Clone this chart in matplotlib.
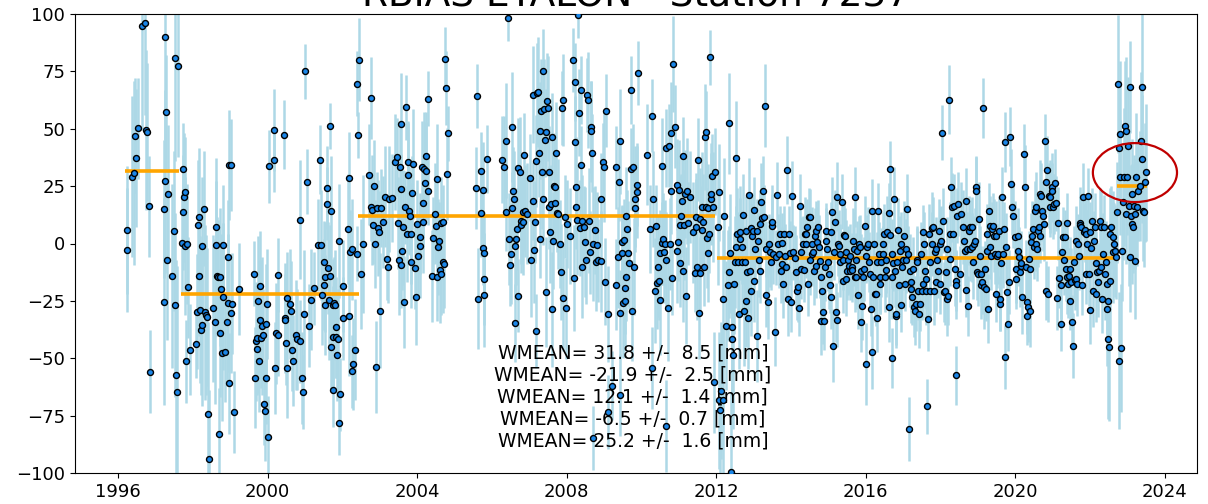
#!/usr/bin/env python3
"""
Range bias residuals for ETALON at station 7237, with weighted mean per interval.
"""

import matplotlib

matplotlib.use("Agg")
import matplotlib.pyplot as plt
from matplotlib.patches import Ellipse

TITLE = "RBIAS ETALON - Station 7237"

# --- 1996 - 2002 -------------------------------------------------------------
t_early = [
  1996.23, 1996.23, 1996.38, 1996.44, 1996.48, 1996.45, 1996.54, 1996.63, 1996.72, 1996.74,
  1996.77, 1996.84, 1996.86, 1997.22, 1997.24, 1997.26, 1997.27, 1997.29, 1997.32, 1997.34,
  1997.44, 1997.51, 1997.52, 1997.53, 1997.56, 1997.58, 1997.60, 1997.70, 1997.73, 1997.75,
  1997.76, 1997.79, 1997.79, 1997.84, 1997.83, 1997.87, 1997.92, 1998.08, 1998.10, 1998.13,
  1998.16, 1998.17, 1998.19, 1998.22, 1998.24, 1998.25, 1998.30, 1998.32, 1998.35, 1998.39,
  1998.42, 1998.43, 1998.55, 1998.59, 1998.61, 1998.62, 1998.65, 1998.68, 1998.70, 1998.72,
  1998.74, 1998.75, 1998.77, 1998.80, 1998.82, 1998.86, 1998.91, 1998.93, 1998.95, 1998.97,
  1998.98, 1999.01, 1999.02, 1999.06, 1999.09, 1999.24, 1999.64, 1999.66, 1999.69, 1999.72,
  1999.73, 1999.77, 1999.75, 1999.80, 1999.81, 1999.83, 1999.86, 1999.88, 1999.90, 1999.93,
  1999.95, 1999.97, 1999.98, 2000.02, 2000.05, 2000.16, 2000.17, 2000.20, 2000.22, 2000.27,
  2000.29, 2000.44, 2000.47, 2000.48, 2000.50, 2000.52, 2000.53, 2000.60, 2000.64, 2000.66,
  2000.69, 2000.75, 2000.80, 2000.88, 2000.87, 2000.93, 2000.96, 2000.98, 2001.01, 2001.06,
  2001.12, 2001.15, 2001.24, 2001.36, 2001.40, 2001.42, 2001.46, 2001.51, 2001.52, 2001.53,
  2001.55, 2001.58, 2001.60, 2001.62, 2001.64, 2001.66, 2001.67, 2001.70, 2001.71, 2001.74,
  2001.75, 2001.76, 2001.78, 2001.80, 2001.82, 2001.84, 2001.86, 2001.89, 2001.90, 2001.92,
  2001.95, 2002.01, 2002.03, 2002.14, 2002.18, 2002.19, 2002.21, 2002.25, 2002.27, 2002.29,
  2002.34, 2002.38, 2002.39, 2002.41, 2002.44, 2002.51, 2002.56,
]
y_early = [
  5.9, -2.7, 29.1, 30.6, 37.3, 47.0, 50.3, 94.6, 96.1, 49.5,
  48.7, 16.2, -55.9, 15.1, -25.3, 27.1, 90.1, 57.3, -7.0, 21.6,
  -14.1, 5.5, 80.8, -26.8, -57.4, -64.9, 77.5, 0.1, 13.6, 32.6,
  20.1, 22.3, -1.2, -0.2, -51.3, -19.1, -46.2, -43.6, -29.7, 8.2,
  11.4, -14.1, -28.8, -37.8, -35.6, -1.1, 15.1, -30.0, -31.1, -32.1,
  -74.2, -93.7, -28.2, -34.0, 7.4, -0.6, -14.3, -14.7, -82.8, -14.7,
  -39.0, -19.9, -47.5, -0.6, -23.1, -47.1, -34.3, -26.0, -6.0, -61.0,
  34.1, 34.1, -30.4, -26.3, -73.4, -19.8, -13.1, -58.6, -42.7, -41.1,
  -45.9, -51.3, -24.9, -33.3, -18.5, -41.1, -35.8, -39.8, -69.9, -72.8,
  -35.0, -58.6, -26.3, -84.4, 33.6, 36.3, 49.5, -54.2, -39.1, -39.8,
  -13.8, 47.4, -32.6, -33.3, -43.5, -54.2, -23.7, -26.3, -29.5, -46.2,
  -51.0, -39.7, -41.7, -42.7, 10.4, -58.6, -64.7, -30.7, 75.0, 27.0,
  -35.8, -24.6, -19.5, -0.5, 36.5, -0.6, -22.3, -8.2, -17.9, -14.7,
  -26.8, 17.4, 24.4, -10.6, -24.6, -14.0, 51.2, -45.2, 14.3, -26.8,
  -63.8, -40.6, -26.0, -26.8, -36.5, -40.8, -48.5, -41.7, 1.1, -78.0,
  -65.7, -18.6, -32.6, 6.2, 28.6, -31.6, -3.5, -2.5, -55.7, -52.5,
  -46.2, -4.5, 69.7, 47.3, 80.1, -13.4, -0.2,
]
e_early = [
  28, 27, 35, 40, 30, 25, 22, 45, 40, 35,
  30, 22, 18, 30, 45, 40, 45, 25, 35, 30,
  40, 35, 45, 40, 50, 55, 40, 22, 25, 20,
  28, 24, 30, 26, 18, 22, 20, 15, 25, 28,
  30, 26, 32, 28, 35, 30, 25, 38, 35, 30,
  40, 30, 32, 36, 30, 28, 26, 25, 20, 30,
  28, 24, 30, 26, 32, 22, 28, 30, 25, 22,
  24, 20, 26, 22, 18, 20, 14, 22, 26, 24,
  20, 22, 28, 26, 24, 22, 30, 20, 18, 22,
  26, 20, 24, 18, 16, 14, 18, 20, 22, 18,
  16, 15, 24, 20, 18, 22, 20, 24, 22, 18,
  20, 24, 22, 18, 26, 20, 16, 28, 12, 14,
  18, 22, 16, 20, 15, 24, 22, 18, 20, 24,
  22, 16, 18, 20, 26, 22, 10, 18, 24, 20,
  16, 22, 20, 24, 22, 18, 20, 22, 25, 14,
  16, 20, 18, 24, 20, 26, 18, 22, 16, 20,
  22, 12, 14, 10, 18, 24, 30,
]

# --- 2002 - 2012 -------------------------------------------------------------
t_mid = [
  2002.76, 2002.72, 2002.76, 2002.85, 2002.83, 2002.80, 2002.87, 2002.92, 2002.96, 2002.99,
  2003.02, 2003.04, 2003.10, 2003.14, 2003.20, 2003.23, 2003.26, 2003.32, 2003.41, 2003.45,
  2003.50, 2003.52, 2003.54, 2003.57, 2003.58, 2003.58, 2003.60, 2003.63, 2003.65, 2003.67,
  2003.70, 2003.72, 2003.75, 2003.77, 2003.79, 2003.81, 2003.83, 2003.85, 2003.87, 2003.90,
  2003.94, 2003.96, 2003.99, 2004.03, 2004.08, 2004.09, 2004.12, 2004.15, 2004.16, 2004.18,
  2004.21, 2004.24, 2004.25, 2004.28, 2004.30, 2004.41, 2004.43, 2004.48, 2004.50, 2004.52,
  2004.54, 2004.57, 2004.59, 2004.61, 2004.63, 2004.65, 2004.68, 2004.70, 2004.73, 2004.74,
  2004.77, 2004.79, 2004.82, 2005.57, 2005.59, 2005.63, 2005.70, 2005.72, 2005.75, 2005.77,
  2005.80, 2005.79, 2005.80, 2005.86, 2006.26, 2006.32, 2006.37, 2006.39, 2006.42, 2006.46,
  2006.48, 2006.50, 2006.53, 2006.55, 2006.57, 2006.59, 2006.61, 2006.62, 2006.64, 2006.66,
  2006.70, 2006.71, 2006.75, 2006.78, 2006.79, 2006.82, 2006.84, 2006.86, 2006.89, 2006.93,
  2007.02, 2007.05, 2007.09, 2007.11, 2007.12, 2007.16, 2007.18, 2007.19, 2007.21, 2007.24,
  2007.27, 2007.28, 2007.30, 2007.32, 2007.34, 2007.36, 2007.37, 2007.39, 2007.42, 2007.44,
  2007.46, 2007.48, 2007.51, 2007.52, 2007.53, 2007.55, 2007.57, 2007.60, 2007.62, 2007.64,
  2007.66, 2007.68, 2007.68, 2007.71, 2007.73, 2007.77, 2007.82, 2007.85, 2007.87, 2007.89,
  2007.91, 2007.95, 2007.98, 2008.01, 2008.09, 2008.17, 2008.19, 2008.22, 2008.23, 2008.25,
  2008.26, 2008.28, 2008.30, 2008.32, 2008.35, 2008.38, 2008.39, 2008.41, 2008.42, 2008.46,
  2008.50, 2008.53, 2008.55, 2008.58, 2008.60, 2008.62, 2008.64, 2008.66, 2008.67, 2008.71,
  2008.75, 2008.78, 2008.80, 2008.84, 2008.91, 2008.93, 2008.96, 2008.99, 2009.02, 2009.05,
  2009.11, 2009.32, 2009.33, 2009.38, 2009.40, 2009.42, 2009.44, 2009.47, 2009.49, 2009.51,
  2009.53, 2009.56, 2009.57, 2009.58, 2009.60, 2009.62, 2009.65, 2009.67, 2009.71, 2009.73,
  2009.76, 2009.78, 2009.80, 2009.82, 2009.84, 2009.87, 2009.89, 2009.91, 2010.14, 2010.22,
  2010.27, 2010.31, 2010.36, 2010.38, 2010.42, 2010.45, 2010.47, 2010.49, 2010.51, 2010.54,
  2010.56, 2010.58, 2010.60, 2010.63, 2010.65, 2010.67, 2010.72, 2010.74, 2010.76, 2010.79,
  2010.80, 2010.83, 2010.85, 2010.89, 2010.94, 2010.96, 2010.98, 2011.01, 2011.03, 2011.04,
  2011.06, 2011.08, 2011.10, 2011.12, 2011.14, 2011.16, 2011.19, 2011.22, 2011.25, 2011.29,
  2011.38, 2011.43, 2011.45, 2011.47, 2011.49, 2011.52, 2011.54, 2011.56, 2011.58, 2011.61,
  2011.63, 2011.65, 2011.68, 2011.70, 2011.72, 2011.74, 2011.76, 2011.78, 2011.78, 2011.81,
  2011.83, 2011.85, 2011.87, 2011.90, 2011.92, 2011.96, 2012.05, 2012.08, 2002.90, 2010.27,
  2009.20, 2009.44, 2009.11, 2010.65, 2008.71, 2011.94, 2012.08, 2012.11,
]
y_mid = [
  63.4, 30.0, 16.1, 25.2, 8.2, 14.6, -0.2, 15.3, 6.8, 4.9,
  -29.2, 15.3, 9.3, 20.4, -6.7, -10.1, 19.4, 19.8, 35.4, 37.6,
  8.8, -7.2, 33.2, 23.8, 52.1, -9.2, -3.1, 7.1, -25.6, 15.8,
  59.3, 4.2, 35.4, 29.7, 14.3, 12.2, 4.2, -8.2, 22.0, 34.7,
  -10.6, -23.4, 8.5, -5.3, -0.9, 2.7, 33.2, 9.3, 17.5, 32.5,
  26.2, 38.3, 31.8, 23.0, 63.0, -14.0, 2.4, 12.9, 7.8, 28.0,
  -14.7, -1.6, 1.3, -11.5, -13.3, 8.8, 9.3, -8.2, -8.9, 80.4,
  67.8, 30.3, 48.0, 24.2, 64.4, -24.1, 13.3, 31.5, 23.3, -2.1,
  -4.1, -15.4, -22.3, 36.8, 36.5, 33.5, 13.8, 44.8, 98.3, 2.0,
  -9.2, -4.5, 15.3, 50.6, 23.0, 19.4, -34.7, -0.9, 2.0, 6.3,
  32.9, -22.7, 31.3, 10.0, 8.1, 13.6, 9.3, 38.7, 14.3, 12.9,
  28.6, -7.2, 18.7, 64.9, -2.8, 9.3, 36.0, -38.2, 65.4, 66.0,
  39.3, 49.2, 2.0, 57.6, 31.2, 75.3, 19.4, 58.5, 45.1, -21.0,
  48.5, 62.0, 58.9, 15.8, 31.0, 4.9, 17.2, -28.6, 46.6, 1.3,
  25.1, 17.5, 24.5, 39.5, 13.2, 12.9, -0.2, -12.5, 59.1, -23.7,
  62.5, 11.7, -28.2, 8.5, 3.4, 80.0, -15.0, 70.2, 44.1, 24.5,
  15.8, 10.4, 99.6, 57.0, 6.8, 34.4, 66.9, 10.0, -10.4, 7.1,
  0.5, -7.4, 64.7, 62.5, 10.0, -3.8, 50.6, 48.9, 39.3, -0.2,
  5.9, -8.2, -0.5, -7.4, 19.3, -7.7, 35.4, 33.2, -16.6, 57.9,
  -30.7, 33.2, -17.9, -6.0, 27.0, 44.5, -30.4, -4.3, 0.5, -26.0,
  1.6, -19.4, -24.9, -14.7, 12.2, 6.3, -4.3, -8.6, 32.5, 66.9,
  -29.2, 33.2, -10.1, 15.5, 19.4, 25.7, 22.3, 74.3, 38.7, 6.3,
  55.7, 19.4, -20.5, 7.5, -17.2, -10.1, -16.5, -24.6, -4.3, 33.9,
  0.1, 2.0, -3.8, -0.2, -7.4, 41.5, -28.1, 42.6, -0.2, 48.2,
  23.0, -15.1, 78.2, 50.9, 25.7, -3.1, 0.5, 23.3, -8.6, 8.2,
  12.2, 18.7, -12.1, 38.3, 8.2, 21.6, -22.7, 23.0, 8.8, 20.1,
  4.9, -13.0, 11.7, 7.1, -10.4, 36.5, -30.4, 10.7, -13.0, 15.8,
  5.9, 9.3, -10.4, 46.3, 48.5, 16.1, 2.4, 15.5, -4.3, 4.2,
  81.1, 19.4, 21.6, 29.6, 15.8, 31.3, 7.1, 22.3, -53.9, -54.3,
  -61.9, -66.0, -73.5, -79.6, -84.7, -60.4, -68.4, -72.5,
]
e_mid = [
  18, 22, 15, 20, 17, 24, 19, 16, 21, 18,
  25, 17, 20, 22, 18, 16, 23, 19, 21, 17,
  20, 24, 18, 15, 22, 19, 17, 25, 20, 16,
  14, 21, 18, 23, 19, 17, 22, 20, 16, 24,
  18, 21, 19, 17, 23, 16, 20, 22, 18, 25,
  17, 19, 21, 15, 12, 20, 18, 22, 16, 24,
  19, 21, 17, 23, 18, 20, 16, 22, 19, 14,
  16, 20, 12, 18, 14, 22, 19, 17, 21, 16,
  18, 20, 23, 15, 19, 22, 17, 25, 10, 20,
  18, 22, 16, 24, 19, 21, 17, 23, 20, 18,
  22, 16, 24, 19, 21, 17, 23, 18, 20, 22,
  19, 25, 17, 21, 23, 18, 20, 16, 22, 24,
  19, 21, 17, 23, 25, 18, 20, 22, 16, 24,
  19, 21, 23, 18, 20, 22, 17, 25, 19, 21,
  23, 18, 20, 22, 17, 24, 19, 21, 16, 23,
  20, 18, 22, 19, 21, 14, 23, 17, 20, 22,
  18, 24, 10, 19, 21, 17, 15, 20, 22, 18,
  24, 19, 16, 21, 23, 18, 20, 22, 17, 25,
  19, 21, 23, 18, 20, 22, 17, 24, 19, 16,
  21, 18, 20, 22, 17, 23, 19, 21, 16, 24,
  18, 20, 22, 19, 21, 17, 23, 20, 18, 15,
  22, 19, 21, 17, 23, 18, 20, 14, 22, 19,
  16, 21, 23, 18, 20, 22, 17, 24, 19, 21,
  18, 20, 22, 19, 21, 17, 23, 18, 20, 22,
  19, 16, 21, 18, 20, 23, 17, 22, 19, 21,
  18, 20, 22, 17, 24, 19, 21, 23, 18, 20,
  22, 17, 19, 21, 23, 18, 20, 22, 16, 24,
  19, 21, 17, 23, 18, 20, 22, 19, 21, 17,
  12, 20, 22, 18, 24, 19, 25, 21, 20, 18,
  15, 18, 16, 20, 14, 22, 30, 28,
]

# --- 2012 - 2018 -------------------------------------------------------------
t_late = [
  2012.20, 2012.17, 2012.26, 2012.34, 2012.32, 2012.35, 2012.38, 2012.41, 2012.43, 2012.45,
  2012.39, 2012.14, 2012.19, 2012.47, 2012.50, 2012.52, 2012.54, 2012.56, 2012.59, 2012.61,
  2012.63, 2012.65, 2012.68, 2012.70, 2012.72, 2012.74, 2012.76, 2012.79, 2012.81, 2012.83,
  2012.85, 2012.88, 2012.90, 2012.93, 2012.94, 2012.97, 2012.99, 2013.01, 2013.02, 2013.05,
  2013.08, 2013.09, 2013.12, 2013.15, 2013.17, 2013.18, 2013.21, 2013.23, 2013.26, 2013.27,
  2013.30, 2013.33, 2013.34, 2013.39, 2013.42, 2013.43, 2013.46, 2013.48, 2013.50, 2013.52,
  2013.57, 2013.59, 2013.63, 2013.66, 2013.68, 2013.70, 2013.73, 2013.75, 2013.77, 2013.79,
  2013.81, 2013.83, 2013.86, 2013.90, 2013.92, 2013.95, 2013.97, 2014.00, 2014.04, 2014.06,
  2014.10, 2014.13, 2014.16, 2014.19, 2014.22, 2014.24, 2014.26, 2014.28, 2014.31, 2014.34,
  2014.37, 2014.40, 2014.41, 2014.43, 2014.46, 2014.49, 2014.50, 2014.52, 2014.55, 2014.57,
  2014.59, 2014.61, 2014.64, 2014.66, 2014.68, 2014.70, 2014.73, 2014.75, 2014.77, 2014.79,
  2014.81, 2014.84, 2014.86, 2014.88, 2014.90, 2014.93, 2014.95, 2014.97, 2014.99, 2015.02,
  2015.04, 2015.06, 2015.08, 2015.11, 2015.13, 2015.14, 2015.17, 2015.20, 2015.22, 2015.23,
  2015.26, 2015.29, 2015.30, 2015.32, 2015.36, 2015.38, 2015.39, 2015.41, 2015.44, 2015.47,
  2015.48, 2015.50, 2015.53, 2015.55, 2015.57, 2015.59, 2015.62, 2015.64, 2015.66, 2015.68,
  2015.70, 2015.71, 2015.73, 2015.75, 2015.77, 2015.79, 2015.82, 2015.84, 2015.87, 2015.88,
  2015.91, 2015.93, 2015.95, 2015.97, 2016.00, 2016.02, 2016.04, 2016.06, 2016.09, 2016.11,
  2016.13, 2016.16, 2016.18, 2016.20, 2016.21, 2016.24, 2016.27, 2016.29, 2016.30, 2016.33,
  2016.36, 2016.37, 2016.39, 2016.42, 2016.45, 2016.46, 2016.48, 2016.51, 2016.53, 2016.55,
  2016.58, 2016.61, 2016.62, 2016.64, 2016.66, 2016.69, 2016.70, 2016.71, 2016.73, 2016.76,
  2016.78, 2016.80, 2016.82, 2016.84, 2016.86, 2016.89, 2016.91, 2016.93, 2016.95, 2016.98,
  2017.00, 2017.03, 2017.04, 2017.07, 2017.09, 2017.11, 2017.13, 2017.16, 2017.18, 2017.20,
  2017.22, 2017.25, 2017.27, 2017.28, 2017.31, 2017.34, 2017.36, 2017.38, 2017.40, 2017.43,
  2017.44, 2017.47, 2017.50, 2017.52, 2017.53, 2017.55, 2017.58, 2017.61, 2017.62, 2017.64,
  2017.67, 2017.69, 2017.71, 2017.73, 2017.76, 2017.78, 2017.80, 2017.82, 2017.85, 2017.87,
  2017.89, 2017.91, 2017.93, 2017.96, 2017.98, 2017.99, 2018.02, 2018.05, 2018.07, 2018.09,
  2018.11, 2018.14, 2018.16, 2018.17, 2018.20, 2018.23, 2018.25, 2018.26, 2018.29, 2018.32,
  2018.34, 2018.35, 2018.38, 2018.41, 2018.42, 2018.44, 2018.47, 2018.42,
]
y_late = [
  12.2, -24.1, -35.8, 52.5, -18.3, -12.5, -4.3, -41.6, -36.5, -48.8,
  -99.7, -64.1, -68.4, -17.6, -8.2, 37.3, -1.6, 4.2, -8.2, -30.7,
  2.0, 4.9, -1.6, -8.2, 12.4, -29.2, -8.2, -24.9, 5.6, -12.5,
  -32.6, 21.3, -12.1, 6.8, -20.5, 3.4, 5.6, -16.2, 14.8, -2.4,
  -40.4, 5.6, 1.3, -7.2, 8.5, -11.8, 18.0, 11.1, 23.0, 11.7,
  60.1, -2.4, -22.4, -25.6, -0.2, -3.8, -8.2, 7.7, 9.3, -4.5,
  -38.4, -6.0, 21.3, -0.2, -4.5, 4.2, -12.1, -8.9, 0.1, -17.6,
  4.2, -5.3, -10.4, 32.0, -24.1, 4.2, -4.3, -25.6, 20.9, -3.8,
  -6.3, -12.5, -20.5, -19.1, -28.1, 16.5, -11.1, -3.5, -0.2, -11.5,
  4.2, 4.2, -0.2, 7.4, -17.6, 11.4, -7.4, 11.7, -4.5, -0.2,
  -3.8, -11.8, 3.4, -9.6, 5.6, 0.8, 7.1, -1.6, -7.7, -14.7,
  -33.6, -20.5, -30.0, -33.6, -10.1, 5.6, 1.3, -2.4, -7.9, -13.5,
  -18.3, -23.4, 4.9, 13.8, -44.5, -3.8, 9.3, -30.0, 20.4, -33.3,
  -0.2, -1.3, -4.5, -8.2, 18.3, -16.2, -7.4, 3.7, 3.4, -3.8,
  -15.4, -11.8, -7.4, -9.6, -5.3, -11.8, -10.4, -11.5, 1.3, -2.4,
  20.4, -14.7, -7.4, -14.7, -3.1, -22.4, -0.2, -1.6, -11.8, -34.3,
  -27.1, -14.7, -11.1, 7.5, -52.5, -5.3, -1.6, -0.2, -8.2, -13.3,
  -28.5, 14.3, -47.4, -14.7, -0.2, -22.0, -22.0, -8.2, -32.4, 14.3,
  -4.5, -14.7, -17.6, -8.2, -4.5, -0.2, 4.2, -14.7, -11.5, -7.4,
  4.9, 13.2, -27.8, 32.5, 3.9, -14.7, -50.0, -4.5, -8.6, 19.4,
  -11.8, -31.4, -30.7, -8.2, 5.9, -17.9, -3.1, -26.6, -0.2, -10.4,
  -7.4, 3.4, -17.6, -7.4, -2.4, 15.1, -4.5, -80.8, -11.8, -16.9,
  -19.8, -23.4, -11.1, -27.8, -29.2, -26.3, -7.4, -8.2, -20.5, -30.7,
  -26.3, -4.5, -20.5, -17.6, 4.9, -0.2, -11.8, -15.4, -20.5, -70.9,
  -32.9, 4.2, -8.2, -20.5, -0.2, 6.6, 7.1, -20.5, -3.8, -2.4,
  -16.9, -7.4, -11.8, 5.6, -0.2, -17.6, 1.3, 48.2, 10.0, -21.2,
  -20.5, -12.5, -2.4, -24.1, -22.7, 62.7, -6.7, 4.2, 24.5, 15.8,
  4.2, 16.5, -11.1, -16.2, -17.9, 12.2, 17.2, -57.5,
]
e_late = [
  25, 30, 28, 22, 24, 20, 26, 30, 28, 32,
  35, 30, 32, 22, 20, 25, 18, 20, 22, 24,
  18, 20, 16, 22, 18, 24, 16, 20, 15, 18,
  22, 16, 18, 15, 20, 14, 16, 18, 14, 15,
  20, 14, 12, 16, 15, 14, 17, 13, 15, 14,
  18, 12, 14, 16, 13, 15, 12, 14, 16, 13,
  15, 12, 14, 13, 15, 12, 14, 16, 13, 15,
  12, 14, 13, 15, 16, 12, 14, 13, 15, 12,
  14, 16, 13, 15, 12, 14, 13, 15, 12, 14,
  16, 13, 15, 12, 14, 13, 15, 12, 14, 16,
  13, 15, 12, 14, 13, 15, 12, 14, 16, 13,
  15, 12, 14, 13, 15, 12, 14, 16, 13, 15,
  12, 14, 13, 15, 16, 12, 14, 13, 15, 12,
  14, 16, 13, 15, 12, 14, 13, 15, 12, 14,
  16, 13, 15, 12, 14, 13, 15, 12, 14, 16,
  13, 15, 12, 14, 13, 15, 12, 14, 16, 13,
  15, 12, 14, 13, 18, 12, 14, 16, 13, 15,
  12, 14, 16, 13, 15, 12, 14, 13, 15, 12,
  14, 16, 13, 15, 12, 14, 13, 15, 12, 14,
  16, 13, 15, 12, 14, 18, 13, 15, 12, 14,
  16, 13, 15, 12, 14, 13, 15, 12, 14, 16,
  13, 15, 12, 14, 13, 15, 12, 14, 16, 13,
  15, 12, 14, 13, 15, 12, 14, 16, 13, 15,
  12, 14, 13, 15, 12, 14, 16, 13, 15, 12,
  14, 13, 15, 12, 14, 16, 13, 15, 12, 14,
  13, 15, 12, 14, 16, 13, 15, 12, 14, 13,
  15, 12, 14, 16, 13, 15, 12, 14, 13, 15,
  12, 14, 16, 13, 15, 12, 14, 13,
]

# --- 2018 - 2023 -------------------------------------------------------------
t_recent = [
  2018.56, 2018.51, 2018.60, 2018.62, 2018.65, 2018.67, 2018.69, 2018.71, 2018.74, 2018.76,
  2018.78, 2018.80, 2018.83, 2018.85, 2018.87, 2018.89, 2018.91, 2018.94, 2018.96, 2018.98,
  2019.00, 2019.03, 2019.05, 2019.07, 2019.09, 2019.12, 2019.14, 2019.16, 2019.18, 2019.21,
  2019.23, 2019.24, 2019.27, 2019.30, 2019.32, 2019.33, 2019.36, 2019.39, 2019.40, 2019.42,
  2019.45, 2019.48, 2019.49, 2019.51, 2019.54, 2019.57, 2019.58, 2019.60, 2019.63, 2019.65,
  2019.67, 2019.70, 2019.72, 2019.73, 2019.76, 2019.78, 2019.81, 2019.82, 2019.85, 2019.88,
  2019.90, 2019.94, 2019.98, 2020.01, 2020.03, 2020.06, 2020.07, 2020.10, 2020.12, 2020.14,
  2020.16, 2020.19, 2020.22, 2020.25, 2020.28, 2020.30, 2020.31, 2020.34, 2020.37, 2020.38,
  2020.40, 2020.43, 2020.46, 2020.47, 2020.50, 2020.52, 2020.55, 2020.56, 2020.58, 2020.61,
  2020.64, 2020.65, 2020.67, 2020.70, 2020.72, 2020.74, 2020.76, 2020.79, 2020.81, 2020.83,
  2020.85, 2020.88, 2020.90, 2020.92, 2020.94, 2020.97, 2020.99, 2021.01, 2021.03, 2021.05,
  2021.08, 2021.12, 2021.14, 2021.17, 2021.21, 2021.23, 2021.26, 2021.28, 2021.29, 2021.32,
  2021.35, 2021.37, 2021.38, 2021.41, 2021.44, 2021.45, 2021.47, 2021.50, 2021.53, 2021.54,
  2021.56, 2021.59, 2021.62, 2021.63, 2021.65, 2021.68, 2021.70, 2021.72, 2021.74, 2021.77,
  2021.79, 2021.81, 2021.83, 2021.86, 2021.88, 2021.90, 2021.92, 2021.95, 2021.97, 2021.99,
  2022.01, 2022.03, 2022.06, 2022.08, 2022.10, 2022.12, 2022.15, 2022.17, 2022.19, 2022.21,
  2022.24, 2022.26, 2022.28, 2022.30, 2022.33, 2022.35, 2022.36, 2022.39, 2022.42, 2022.44,
  2022.45, 2022.47, 2022.49, 2022.51, 2022.52, 2022.54, 2022.57, 2022.60, 2022.61, 2022.63,
  2022.66, 2022.70, 2022.73,
  2022.76, 2022.77, 2022.77, 2022.79, 2022.81, 2022.84, 2022.85,
  2022.88, 2022.90, 2022.93, 2022.95, 2022.97, 2022.99, 2023.01, 2023.04, 2023.06, 2023.08,
  2023.09, 2023.11, 2023.13, 2023.15, 2023.17, 2023.19, 2023.21, 2023.24, 2023.26, 2023.29,
  2023.33, 2023.35, 2023.38, 2023.40, 2023.42, 2023.43, 2023.46, 2023.49,
]
y_recent = [
  12.9, -13.3, 7.1, 1.3, -3.4, -20.2, 18.7, -2.4, -27.1, 5.6,
  7.1, -2.4, 7.1, -1.6, -8.2, -0.2, 1.3, 24.5, 23.0, -12.5,
  -13.3, 10.7, -5.3, -17.9, -13.3, -16.9, 59.1, -19.1, -11.1, -19.8,
  -3.4, 4.2, -28.5, 14.3, -1.6, 7.8, -5.3, 6.3, 7.8, 3.4,
  -4.5, 3.4, -22.0, -5.3, -4.5, 5.6, -26.3, -24.1, -8.6, 20.4,
  -4.5, 6.3, -49.3, 44.1, -1.6, -21.2, -35.0, -16.9, 46.6, 26.0,
  15.8, 12.2, 2.7, -15.4, -11.1, 3.4, -3.1, -5.7, -12.5, -9.6,
  -8.6, -23.4, 39.0, 24.8, -10.4, -25.3, -31.4, -27.8, -6.7, -11.1,
  -29.2, 0.5, 3.4, 6.3, -1.6, 14.3, 16.1, -0.2, -2.4, 5.6,
  7.4, 21.6, 3.4, 20.9, 14.3, 11.9, 8.5, 44.5, 26.7, -20.5,
  32.0, -22.0, 20.9, 20.4, 15.8, 24.5, 23.0, 16.1, 17.2, 26.2,
  17.5, -23.7, 8.8, -15.0, -17.9, -35.0, -3.8, 2.7, -7.4, 2.7,
  -11.1, -14.7, 8.8, -17.6, -14.0, -11.1, -24.9, -16.9, -34.3, -44.5,
  -8.2, -15.9, 1.3, -15.4, -17.6, -0.2, -5.3, 8.8, 8.2, 7.1,
  -18.3, 20.1, 5.2, 5.9, 4.2, -13.3, -0.2, 20.9, -13.3, 4.9,
  -28.9, -1.9, 10.0, -20.5, 1.3, 7.1, -22.0, -8.6, -12.5, -16.9,
  -11.8, 10.0, 7.1, -10.4, -24.1, -4.5, 7.1, -13.3, -8.2, -17.6,
  -28.5, -24.9, -41.6, -45.2, 4.2, -16.2, 7.1, -3.8, 2.7, -0.2,
  -3.1, -6.0, 13.6,
  69.5, 41.5, -51.0, 28.9, 47.7, -45.6, -3.1,
  18.0, 28.9, 51.4, 49.2, 12.9, 28.9, 42.6, 16.5, 68.3, -5.7,
  12.2, 8.5, 21.6, 7.1, 16.5, -7.7, 12.9, 28.9, 16.1, 23.0,
  25.2, 44.8, 68.1, 36.8, 14.3, 13.6, 26.7, 31.0,
]
e_recent = [
  14, 12, 16, 13, 15, 12, 14, 16, 13, 15,
  12, 14, 13, 15, 16, 12, 14, 13, 15, 12,
  14, 16, 13, 15, 12, 14, 13, 18, 12, 14,
  16, 13, 15, 12, 14, 13, 15, 12, 14, 16,
  13, 15, 12, 14, 13, 15, 12, 14, 16, 13,
  15, 12, 14, 13, 15, 16, 12, 14, 13, 15,
  12, 14, 16, 13, 15, 12, 14, 13, 15, 12,
  14, 16, 13, 18, 12, 14, 13, 15, 12, 14,
  16, 13, 15, 12, 14, 13, 15, 12, 14, 16,
  13, 15, 12, 14, 13, 15, 16, 12, 14, 13,
  15, 12, 14, 16, 13, 15, 12, 14, 13, 15,
  12, 14, 16, 13, 15, 12, 14, 13, 15, 12,
  14, 16, 13, 15, 12, 14, 13, 15, 12, 14,
  16, 13, 15, 12, 14, 13, 15, 16, 12, 14,
  13, 15, 12, 14, 16, 13, 15, 12, 14, 13,
  15, 12, 14, 16, 13, 15, 12, 14, 13, 15,
  12, 14, 16, 13, 15, 18, 14, 20, 18, 22,
  25, 28, 35, 32, 20, 24, 18, 22, 20, 18,
  20, 18, 22,
  30, 28, 30, 25, 32, 28, 22,
  25, 30, 28, 32, 22, 25, 30, 35, 20, 24,
  22, 26, 24, 20, 22, 25, 24, 28, 26, 22,
  24, 30, 35, 28, 22, 24, 26, 30,
]

# weighted mean per interval [mm]
seg_start = [1996.19, 1997.68, 2002.43, 2012.01, 2022.73]
seg_end = [1997.63, 2002.45, 2011.98, 2022.77, 2023.53]
seg_mean = [31.8, -21.9, 12.1, -6.5, 25.2]
seg_err = [8.5, 2.5, 1.4, 0.7, 1.6]


def main():
  """Draw the residuals, the interval means and the annotation."""
  t_all = t_early + t_mid + t_late + t_recent
  y_all = y_early + y_mid + y_late + y_recent
  e_all = e_early + e_mid + e_late + e_recent

  fig = plt.figure(figsize=(12.08, 5.04), dpi=100)
  ax = fig.add_axes([75 / 1208, 31 / 504, 1122 / 1208, 459 / 504])

  ax.errorbar(t_all, y_all, yerr=e_all, fmt="none", ecolor="lightblue", elinewidth=1.8, zorder=1)
  ax.hlines(seg_mean, seg_start, seg_end, colors="orange", linewidth=2.6, zorder=2)
  ax.plot(
    t_all, y_all, "o", markersize=4.3, markerfacecolor="#1a86e8",
    markeredgecolor="black", markeredgewidth=1.0, linestyle="none", zorder=3,
  )

  lines = [f"WMEAN= {m:.1f} +/- {e:4.1f} [mm]" for m, e in zip(seg_mean, seg_err)]
  ax.text(2009.77, -66.9, "\n".join(lines), ha="center", va="center", fontsize=13.5, zorder=2)

  ax.add_patch(Ellipse((2023.20, 30.9), 2.25, 25.7, fill=False, edgecolor="#c00000", linewidth=1.6, zorder=5))

  ax.set_xlim(1994.85, 2024.86)
  ax.set_ylim(-100, 100)
  ax.set_xticks([1996, 2000, 2004, 2008, 2012, 2016, 2020, 2024])
  ax.set_yticks([-100, -75, -50, -25, 0, 25, 50, 75, 100])
  ax.tick_params(labelsize=13)
  ax.set_title(TITLE, fontsize=27)

  fig.savefig("out.png", dpi=100)


if __name__ == "__main__":
  main()
